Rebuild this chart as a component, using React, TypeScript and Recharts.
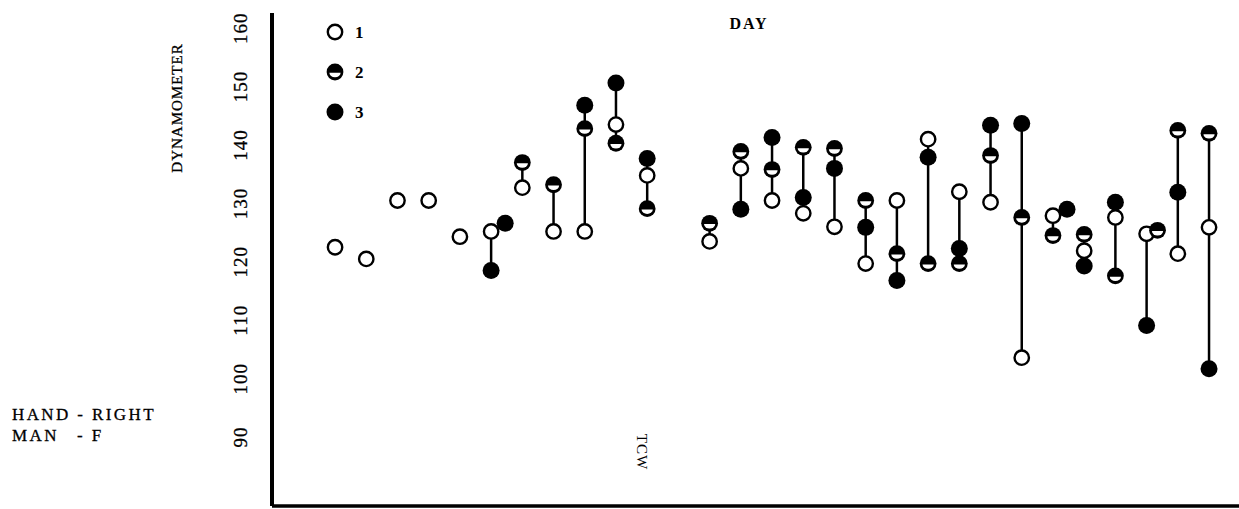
import { ComposedChart, Scatter, XAxis, YAxis, Legend } from 'recharts'

// column position along the x axis (one slot per session, offsets for split points)
const slots = [
  0, 1, 2, 3, 4, 5, 5.45, 6, 7, 8, 9, 10, 12, 13, 14, 15, 16, 17, 18, 19, 20,
  21, 22, 23, 23.45, 24, 25, 26, 26.35, 27, 28,
]
// dynamometer readings per day (null = no reading at that slot)
const day1 = [
  122.5, 120.5, 130.5, 130.5, 124.3, 125.2, null, 132.7, 125.2, 125.2, 143.5, 134.8, 123.5, 136.0, 130.5, 128.3, 126.0, 119.7, 130.5, 141.0, 132.0,
  130.2, 103.6, 127.9, null, 121.9, 127.6, 124.8, null, 121.4, 125.9,
]
const day2 = [
  null, null, null, null, null, null, null, 137.0, 133.2, 142.8, 140.3, 129.1, 126.6, 138.9, 135.8, 139.6, 139.4, 130.5, 121.4, 119.7, 119.7,
  138.2, 127.6, 124.5, null, 124.7, 117.6, null, 125.4, 142.5, 142.0,
]
const day3 = [
  null, null, null, null, null, 118.5, 126.6, null, null, 146.8, 150.6, 137.7, null, 129.0, 141.3, 131.0, 136.0, 125.9, 116.8, 137.9, 122.3,
  143.4, 143.7, null, 129.0, 119.3, 130.2, 109.1, null, 131.9, 101.7,
]
const yTicks = [90, 100, 110, 120, 130, 140, 150, 160]

const toPoints = (vals: (number | null)[]) =>
  slots.map((x, i) => ({ x, y: vals[i] })).filter((p) => p.y !== null)

const pts1 = toPoints(day1)
const pts2 = toPoints(day2)
const pts3 = toPoints(day3)

// vertical connector per column, from lowest to highest reading
const connectors = slots
  .map((x, i) => {
    const v = [day1[i], day2[i], day3[i]].filter((n) => n !== null) as number[]
    return v.length > 1 ? [{ x, y: Math.min(...v) }, { x, y: Math.max(...v) }] : null
  })
  .filter(Boolean) as { x: number; y: number }[][]

const FONT = '"Liberation Serif", "DejaVu Serif", serif'

const OpenDot = ({ cx, cy }: any) => (
  <circle cx={cx} cy={cy} r={7.2} fill="#fff" stroke="#000" strokeWidth={2.4} />
)
const HalfDot = ({ cx, cy }: any) => (
  <g>
    <circle cx={cx} cy={cy} r={8.4} fill="#000" />
    <path d={`M ${cx - 5.6},${cy + 0.8} A 5.6 4.4 0 0 0 ${cx + 5.6},${cy + 0.8} Z`} fill="#fff" />
  </g>
)
const FullDot = ({ cx, cy }: any) => <circle cx={cx} cy={cy} r={8.5} fill="#000" />
const NoDot = () => <g />

const YTick = ({ y, payload }: any) => (
  <text
    x={247}
    y={y}
    transform={`rotate(-90 247 ${y})`}
    textAnchor="middle"
    fontFamily={FONT}
    fontSize={19}
    letterSpacing={1}
    fill="#000"
    stroke="#000"
    strokeWidth={0.3}
  >
    {payload.value}
  </text>
)

const LegendBox = ({ payload }: any) => {
  const items = (payload || []).filter((p: any) => ['1', '2', '3'].includes(p.value))
  return (
    <svg width={60} height={110}>
      {items.map((p: any, i: number) => {
        const cy = 10 + i * 40
        return (
          <g key={p.value}>
            {p.value === '1' && <OpenDot cx={10} cy={cy} />}
            {p.value === '2' && <HalfDot cx={10} cy={cy} />}
            {p.value === '3' && <FullDot cx={10} cy={cy} />}
            <text x={30} y={cy + 6} fontFamily={FONT} fontSize={17} fontWeight="bold" fill="#000">
              {p.value}
            </text>
          </g>
        )
      })}
    </svg>
  )
}

export default function App() {
  return (
    <div style={{ position: 'absolute', left: 0, top: 0, width: 1239, height: 509, background: '#fff' }}>
      <ComposedChart width={1239} height={509} margin={{ top: 13, right: 0, bottom: 0, left: 0 }}>
        <XAxis
          type="number"
          dataKey="x"
          domain={[-2.02, 28.96]}
          allowDataOverflow
          height={3}
          tick={false}
          tickLine={false}
          axisLine={{ stroke: '#000', strokeWidth: 3.5 }}
        />
        <YAxis
          type="number"
          dataKey="y"
          domain={[78.2, 162.6]}
          ticks={yTicks}
          allowDataOverflow
          width={272}
          tickLine={false}
          tick={<YTick />}
          axisLine={{ stroke: '#000', strokeWidth: 4 }}
        />
        {connectors.map((seg, i) => (
          <Scatter
            key={'c' + i}
            data={seg}
            line={{ stroke: '#000', strokeWidth: 2.5 }}
            shape={<NoDot />}
            legendType="none"
            isAnimationActive={false}
          />
        ))}
        <Scatter name="1" data={pts1} shape={<OpenDot />} isAnimationActive={false} />
        <Scatter name="2" data={pts2} shape={<HalfDot />} isAnimationActive={false} />
        <Scatter name="3" data={pts3} shape={<FullDot />} isAnimationActive={false} />
        <Legend
          layout="vertical"
          align="center"
          verticalAlign="middle"
          content={<LegendBox />}
          wrapperStyle={{ position: 'absolute', left: 325, top: 22, width: 60 }}
        />
      </ComposedChart>
      <svg
        width={1239}
        height={509}
        style={{ position: 'absolute', left: 0, top: 0, pointerEvents: 'none' }}
      >
        <text x={749} y={29} textAnchor="middle" fontFamily={FONT} fontSize={16} fontWeight="bold" letterSpacing={2}>
          DAY
        </text>
        <text
          x={182}
          y={108}
          transform="rotate(-90 182 108)"
          textAnchor="middle"
          fontFamily={FONT}
          fontSize={15}
          letterSpacing={1}
          stroke="#000"
          strokeWidth={0.3}
        >
          DYNAMOMETER
        </text>
        <text
          x={637}
          y={452}
          transform="rotate(90 637 452)"
          textAnchor="middle"
          fontFamily={FONT}
          fontSize={15}
          letterSpacing={1}
        >
          TCW
        </text>
        <text x={12} y={420} fontFamily={FONT} fontSize={17} letterSpacing={2.4} stroke="#000" strokeWidth={0.3}>
          HAND - RIGHT
        </text>
        <text x={12} y={441} fontFamily={FONT} fontSize={17} letterSpacing={2.4} stroke="#000" strokeWidth={0.3}>
          MAN
        </text>
        <text x={77} y={441} fontFamily={FONT} fontSize={17} letterSpacing={2.4} stroke="#000" strokeWidth={0.3}>
          - F
        </text>
      </svg>
    </div>
  )
}
